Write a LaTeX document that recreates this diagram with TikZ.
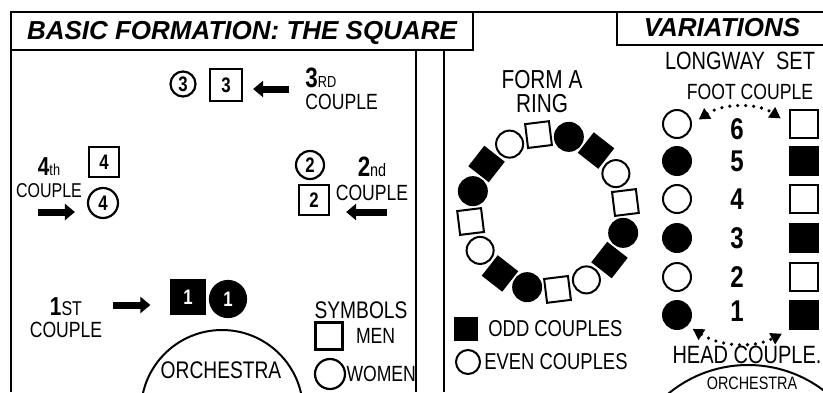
\documentclass[tikz,border=0pt]{standalone}
\usepackage{fontspec}
\setmainfont{Liberation Sans}[FakeStretch=0.8]
\newfontfamily\titlefont{Liberation Sans}
\usetikzlibrary{positioning,arrows.meta}

\tikzset{
  frame/.style={line width=1pt},
  titletext/.style={font=\titlefont\bfseries\itshape\fontsize{13}{13}\selectfont, inner sep=0pt},
  lbl/.style={font=\fontsize{11}{10}\selectfont, inner sep=0pt, align=center},
  woman/.style={draw, circle, line width=1.1pt, inner sep=0pt, minimum size=12.5pt, font=\bfseries\fontsize{10.5}{10.5}\selectfont},
  man/.style={draw, rectangle, line width=1.1pt, inner sep=0pt, minimum size=15pt, font=\bfseries\fontsize{10.5}{10.5}\selectfont},
  blockarrow/.style={line width=3.5pt, -{Triangle[length=5pt,width=8pt]}},
  dotarrow/.style={line width=1.8pt, dash pattern=on 0pt off 4pt, line cap=round,
    {Triangle[length=5.5pt,width=6pt]}-{Triangle[length=5.5pt,width=6pt]}},
  stage/.style={draw, circle, line width=1pt, inner sep=0pt}
}

\begin{document}
\begin{tikzpicture}[x=0.5pt, y=-0.5pt,
  ringman/.style={draw, rectangle, line width=1pt, inner sep=0pt, minimum size=12pt},
  ringwoman/.style={draw, circle, line width=1pt, inner sep=0pt, minimum size=13.5pt},
  lwnum/.style={font=\bfseries\fontsize{15}{15}\selectfont, inner sep=0pt}
]
  \useasboundingbox (0,0) rectangle (823,392);
  \clip (0,0) rectangle (823,392);

  % frames and headings
  \draw[frame] (11,392) -- (11,12) -- (823,12);
  \draw[frame] (11,50) -- (473,50) -- (473,12);
  \draw[frame] (416,50) -- (416,392);
  \draw[frame] (444,50) -- (444,392);
  \draw[frame] (617,12) -- (617,45) -- (823,45);
  \node[titletext] (ttl) at (242,33) {BASIC FORMATION: THE SQUARE};
  \node[titletext] (var) at (722,28) {VARIATIONS};

  % basic formation: the square
  \node[woman] (w3) at (183,84) {3};
  \node[man, minimum size=16pt] (m3) at (226,85) {3};
  \node[lbl, align=left, anchor=west] (c3) at (305,89) {{\fontsize{14}{14}\selectfont\bfseries 3}{\fontsize{8}{8}\selectfont RD}\\[1pt]COUPLE};
  \draw[blockarrow, shorten <=8pt, shorten >=5pt] (c3.west) -- (c3.west -| m3.east);

  \node[man] (m4) at (104,162) {4};
  \node[woman, minimum size=15pt] (w4) at (103,203) {4};
  \node[lbl, font=\fontsize{10}{10}\selectfont] (c4) at (49,178) {{\fontsize{13}{13}\selectfont\bfseries 4}{\fontsize{8}{8}\selectfont th}\\[1pt]COUPLE};
  \coordinate (a4) at (38,212);
  \draw[blockarrow, shorten >=6pt] (a4) -- (a4 -| w4.west);

  \node[woman, minimum size=14pt] (w2) at (310,165) {2};
  \node[man] (m2) at (314,200) {2};
  \node[lbl] (c2) at (372,179) {{\fontsize{14}{14}\selectfont\bfseries 2}{\fontsize{9}{9}\selectfont nd}\\[2pt]COUPLE};
  \coordinate (a2) at (387,212);
  \draw[blockarrow, shorten >=8pt] (a2) -- (a2 -| m2.east);

  \node[man, fill=black, minimum size=16.5pt, text=white] (m1) at (188,297) {1};
  \node[woman, fill=black, minimum size=18pt, text=white] (w1) at (228,299) {1};
  \node[lbl] (c1) at (66,318) {{\fontsize{13}{13}\selectfont\bfseries 1}{\fontsize{10}{10}\selectfont ST}\\[1pt]COUPLE};
  \coordinate (a1) at (113,305);
  \draw[blockarrow, shorten >=10pt] (a1) -- (a1 -| m1.west);

  \node[stage, minimum size=81pt] (orch) at (222,411) {};
  \node[lbl, font=\fontsize{12}{12}\selectfont] (orchtxt) at (221,370) {ORCHESTRA};

  \node[lbl, font=\fontsize{12}{12}\selectfont] (sym) at (361,310) {SYMBOLS};
  \node[man, minimum size=13.5pt] (menkey) at (329,336) {};
  \node[lbl, right=6pt of menkey] (men) {MEN};
  \node[woman, minimum size=15pt] (womenkey) at (330,374) {};
  \node[lbl, right=0pt of womenkey] (women) {WOMEN};

  % variations: ring
  \node[lbl, font=\fontsize{13}{12}\selectfont] (ring) at (542,92) {FORM A\\RING};
  \coordinate (ringc) at (548,212);
  \foreach \k in {0,...,15}{
    \pgfmathsetmacro\rot{97-22.5*\k}
    \pgfmathsetmacro\pang{22.5*\k-97}
    \pgfmathtruncatemacro\kind{mod(\k,4)}
    \ifcase\kind
      \node[ringman, rotate=\rot] (r\k) at ([shift={(\pang:78)}]ringc) {};
    \or
      \node[ringwoman, fill=black, minimum size=14pt] (r\k) at ([shift={(\pang:78)}]ringc) {};
    \or
      \node[ringman, fill=black, rotate=\rot] (r\k) at ([shift={(\pang:78)}]ringc) {};
    \or
      \node[ringwoman] (r\k) at ([shift={(\pang:78)}]ringc) {};
    \fi
  }
  \node[ringman, fill=black, minimum size=11pt] (oddkey) at (466,329) {};
  \node[lbl, font=\fontsize{11.5}{11.5}\selectfont, right=5pt of oddkey] (odd) {ODD COUPLES};
  \node[ringwoman, minimum size=12pt] (evenkey) at (468,362) {};
  \node[lbl, font=\fontsize{11.5}{11.5}\selectfont, right=1.5pt of evenkey] (even) {EVEN COUPLES};

  % variations: longway set
  \node[lbl, font=\fontsize{12.5}{12.5}\selectfont] (longway) at (740,61) {LONGWAY\ \ SET};
  \node[lbl] (foot) at (750,92) {FOOT COUPLE};
  \foreach \n/\yy in {1/315,2/277,3/238,4/199,5/161,6/124}{
    \ifodd\n \def\lwfill{black}\else \def\lwfill{white}\fi
    \node[ringwoman, minimum size=14pt, fill=\lwfill] (lw\n) at (677,\yy) {};
    \node[ringman, minimum size=14pt, fill=\lwfill] (lm\n) at (804,\yy) {};
  }
  \foreach \n/\yy in {1/311,2/277,3/238,4/199,5/161,6/129}
    \node[lwnum] (ln\n) at (737,\yy) {\n};
  \draw[dotarrow, shorten <=4pt, shorten >=5pt] (lw6.east) to[bend left=34] (lm6.west);
  \draw[dotarrow, shorten <=3pt, shorten >=4pt] (lw1.south east) to[bend right=30] (lm1.south west);
  \node[lbl, font=\fontsize{12.5}{12.5}\selectfont] (head) at (747,355) {HEAD COUPLE.};
  \node[stage, minimum size=125pt] (orch2) at (748,490) {};
  \node[lbl, font=\fontsize{9}{9}\selectfont] (orch2txt) at (752,383) {ORCHESTRA};
\end{tikzpicture}
\end{document}
